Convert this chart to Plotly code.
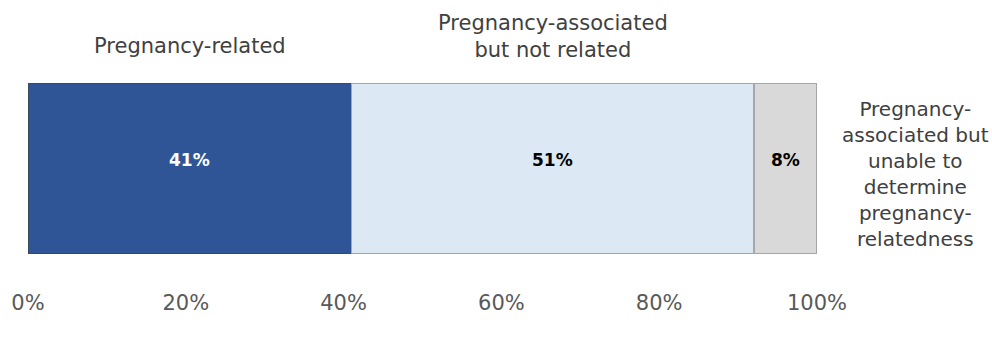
import plotly.graph_objects as go

# Share of pregnancy-associated deaths by relatedness category
categories = [
    "Pregnancy-related",
    "Pregnancy-associated<br>but not related",
    "Pregnancy-<br>associated but<br>unable to<br>determine<br>pregnancy-<br>relatedness",
]
values = [41, 51, 8]
fills = ["#2f5597", "#dde8f5", "#d9d9d9"]
edges = ["#3b4a5e", "#a6a6a6", "#a6a6a6"]
value_colors = ["#ffffff", "#000000", "#000000"]
tick_vals = [0, 20, 40, 60, 80, 100]
tick_text = ["0%", "20%", "40%", "60%", "80%", "100%"]

FONT = "DejaVu Sans"

fig = go.Figure()
for cat, v, fc, ec in zip(categories, values, fills, edges):
    fig.add_trace(go.Bar(
        x=[v], y=[0], orientation="h", width=1,
        marker=dict(color=fc, line=dict(color=ec, width=1.5)),
        hoverinfo="skip", showlegend=False,
    ))

# value labels inside each segment, and category captions
start = 0
for i, (cat, v, tc) in enumerate(zip(categories, values, value_colors)):
    mid = start + v / 2
    start += v
    fig.add_annotation(
        x=mid, xref="x", y=0, yref="y", text=f"<b>{v}%</b>", showarrow=False,
        xanchor="center", yanchor="middle", yshift=9,
        font=dict(family=FONT, size=17, color=tc),
    )
    if i < 2:
        fig.add_annotation(
            x=mid, xref="x", y=1, yref="paper", text=cat, showarrow=False,
            xanchor="center", yanchor="middle", yshift=[37, 47][i],
            font=dict(family=FONT, size=21, color="#404040"),
        )
    else:
        fig.add_annotation(
            x=1, xref="paper", y=0.5, yref="paper", text=cat, showarrow=False,
            xanchor="center", yanchor="middle", xshift=98, yshift=-5,
            font=dict(family=FONT, size=20, color="#404040"),
        )

fig.update_layout(
    barmode="stack",
    width=992, height=345,
    margin=dict(l=28, r=175, t=83, b=91),
    plot_bgcolor="white", paper_bgcolor="white",
    xaxis=dict(range=[0, 100], tickvals=tick_vals, ticktext=tick_text,
               showgrid=False, zeroline=False, showline=False, ticks="",
               ticklabelstandoff=34,
               tickfont=dict(family=FONT, size=21, color="#595959")),
    yaxis=dict(range=[-0.5, 0.5], visible=False),
)

fig.write_html("out.html")
